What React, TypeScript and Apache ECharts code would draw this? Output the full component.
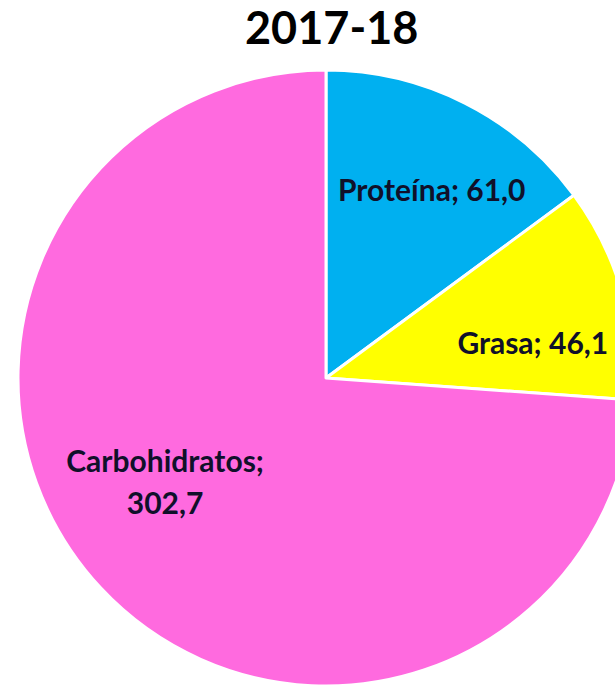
import React, { useEffect, useRef } from "react";
import * as echarts from "echarts";

const title = "2017-18";
const categories = ["Proteína", "Grasa", "Carbohidratos"];
const values = [61.0, 46.1, 302.7];
const colors = ["#00B0F0", "#FFFF00", "#FF6ADF"];
const labelShift = [
  [35, -49],
  [56, 8],
  [-46, -4],
];

const fmt = (v: number) => v.toFixed(1).replace(".", ",");

export default function App() {
  const ref = useRef<HTMLDivElement>(null);
  useEffect(() => {
    document.body.style.margin = "0";
    const chart = echarts.init(ref.current!, null, { renderer: "svg" });
    chart.setOption({
      animation: false,
      backgroundColor: "#ffffff",
      title: {
        text: title,
        left: 240,
        top: -1,
        textStyle: { fontFamily: "Lato", fontWeight: "bold", fontSize: 45, color: "#000" },
      },
      series: [
        {
          type: "pie",
          center: [326, 378],
          radius: 308,
          startAngle: 90,
          clockwise: true,
          silent: true,
          itemStyle: { borderColor: "#ffffff", borderWidth: 3 },
          label: {
            show: true,
            position: "inside",
            fontFamily: "Lato",
            fontWeight: "bold",
            fontSize: 30,
            color: "#10102a",
            lineHeight: 42,
            formatter: (p: any) =>
              p.dataIndex === 2 ? `${p.name};\n${fmt(p.value)}` : `${p.name}; ${fmt(p.value)}`,
          },
          labelLine: { show: false },
          labelLayout: (p: any) => ({ dx: labelShift[p.dataIndex][0], dy: labelShift[p.dataIndex][1] }),
          data: categories.map((c, i) => ({ name: c, value: values[i], itemStyle: { color: colors[i] } })),
        },
      ],
    });
    return () => chart.dispose();
  }, []);
  return <div ref={ref} style={{ width: 615, height: 691 }} />;
}
